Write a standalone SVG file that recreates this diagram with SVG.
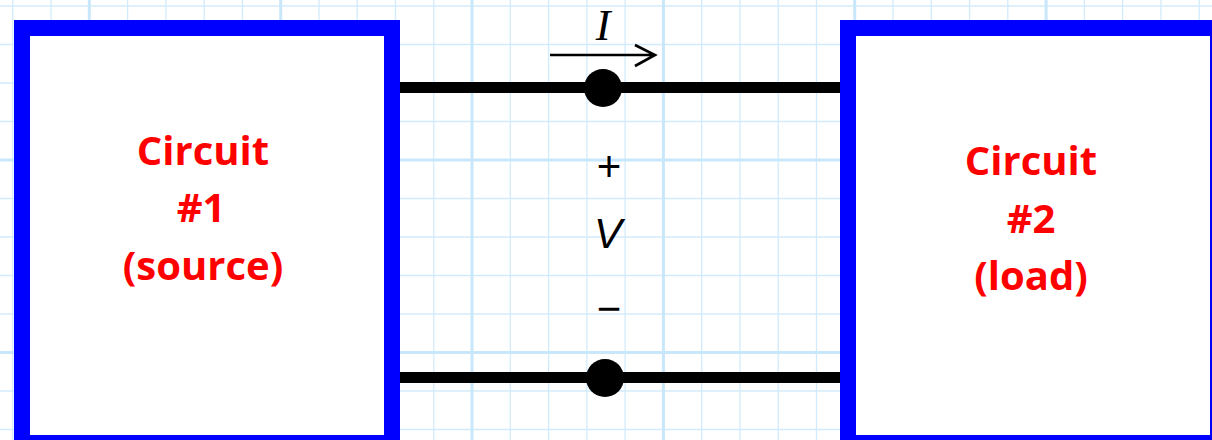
<svg xmlns="http://www.w3.org/2000/svg" width="1212" height="440" viewBox="0 0 1212 440">
<style>
.g{stroke:#d2ebfc;stroke-width:1.3;fill:none}
.gt{stroke:#c9e7fb;stroke-width:3;fill:none}
.box{fill:#fff;stroke:#0000ff;stroke-width:16}
.wire{stroke:#000;stroke-width:11;fill:none}
.lbl{font-family:"Open Sans","DejaVu Sans",sans-serif;font-weight:bold;font-size:40px;fill:#ff0000;text-anchor:middle}
.sym{font-family:"Liberation Sans",sans-serif;fill:#000;text-anchor:middle}
</style>
<rect width="1212" height="440" fill="#fff"/>
<g id="grid">
<path class="g" d="M12.8 0V440M51.1 0V440M127.6 0V440M165.9 0V440M204.2 0V440M242.4 0V440M319 0V440M357.2 0V440M395.5 0V440M433.8 0V440M510.3 0V440M548.6 0V440M586.9 0V440M625.1 0V440M701.7 0V440M739.9 0V440M778.2 0V440M816.5 0V440M893 0V440M931.3 0V440M969.6 0V440M1007.8 0V440M1084.4 0V440M1122.6 0V440M1160.9 0V440M1199.2 0V440M0 6H1212M0 44.5H1212M0 83H1212M0 121.5H1212M0 198.5H1212M0 237H1212M0 275.5H1212M0 314H1212M0 391H1212M0 429.5H1212"/>
<path class="gt" d="M89.3 0V440M280.7 0V440M472 0V440M663.4 0V440M854.7 0V440M1046.1 0V440M0 160H1212M0 352.5H1212"/>
</g>
<g id="connectors">
<line class="wire" x1="392" y1="87.5" x2="848" y2="87.5"/>
<line class="wire" x1="392" y1="377.5" x2="848" y2="377.5"/>
<circle cx="603" cy="88" r="19"/>
<circle cx="605" cy="378" r="19"/>
<path d="M550 55H654M635 45L655 55L635 66" stroke="#000" stroke-width="2.6" fill="none" stroke-linejoin="miter"/>
<text class="sym" x="603" y="40" font-style="italic" font-size="44" style="font-family:'Liberation Serif',serif">I</text>
<text class="sym" x="609" y="181" font-size="42">+</text>
<text class="sym" x="608" y="248" font-size="42" font-style="italic">V</text>
<text class="sym" x="609" y="323" font-size="42">−</text>
</g>
<g id="circuit1">
<rect class="box" x="22" y="28" width="370" height="415"/>
<text class="lbl" x="203" y="165">Circuit</text>
<text class="lbl" x="201" y="222">#1</text>
<text class="lbl" x="203" y="280">(source)</text>
</g>
<g id="circuit2">
<rect class="box" x="848" y="28" width="370" height="415"/>
<text class="lbl" x="1031" y="175">Circuit</text>
<text class="lbl" x="1031" y="233">#2</text>
<text class="lbl" x="1031" y="290">(load)</text>
</g>
</svg>
